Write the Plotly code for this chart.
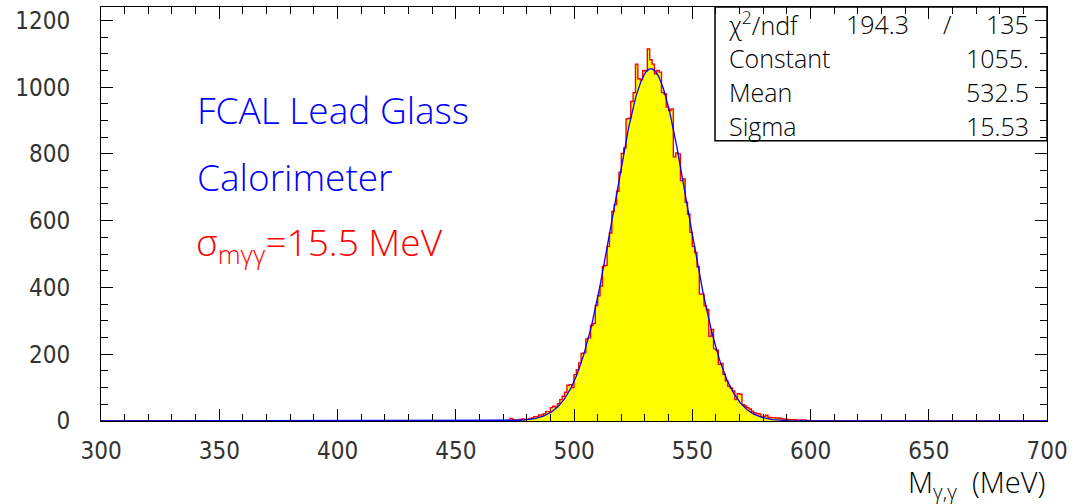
import numpy as np
import plotly.graph_objects as go

# ---------------- data ----------------
x_range = [300, 700]
y_range = [0, 1240]
bin_width = 1.0  # MeV
first_bin = 455  # lower edge of first listed bin (all others are empty)
counts = [
    0, 0, 0, 0, 0, 1, 0, 1, 0, 2,          # 455-464
    1, 1, 2, 1, 2, 1, 1, 2, 8, 4,          # 465-474
    2, 3, 5, 6, 4, 5, 7, 9, 13, 13,        # 475-484
    18, 18, 22, 28, 28, 40, 44, 42, 52, 64,  # 485-494
    74, 86, 107, 109, 100, 139, 154, 174, 202, 204,  # 495-504
    246, 249, 286, 292, 346, 375, 404, 463, 466, 523,  # 505-514
    563, 628, 648, 688, 745, 801, 818, 905, 907, 957,  # 515-524
    983, 1069, 1025, 1022, 1049, 1050, 1114, 1082, 1069, 1040,  # 525-534
    1050, 1045, 984, 980, 940, 930, 935, 791, 803, 800,  # 535-544
    720, 725, 655, 620, 565, 523, 505, 462, 380, 380,  # 545-554
    345, 334, 254, 274, 216, 212, 170, 172, 140, 120,  # 555-564
    104, 99, 90, 64, 82, 80, 49, 45, 40, 36,  # 565-574
    29, 24, 22, 21, 14, 14, 17, 11, 10, 10,  # 575-584
    9, 9, 8, 6, 5, 5, 4, 4, 4, 3,          # 585-594
    2, 3, 3, 2, 1, 1, 0, 0, 0, 0,          # 595-604
]
fit_constant = 1055.0
fit_mean = 532.5
fit_sigma = 15.53
chi2 = "194.3"
ndf = "135"
x_ticks = [300, 350, 400, 450, 500, 550, 600, 650, 700]
y_ticks = [0, 200, 400, 600, 800, 1000, 1200]

# ---------------- build step outline over the full range ----------------
n_bins = int((x_range[1] - x_range[0]) / bin_width)
edges = [x_range[0] + i * bin_width for i in range(n_bins + 1)]
full = [0.0] * n_bins
for i, c in enumerate(counts):
    full[int((first_bin - x_range[0]) / bin_width) + i] = c
step_x = edges
step_y = full + [full[-1]]

fit_x = np.linspace(x_range[0], x_range[1], 1601)
fit_y = fit_constant * np.exp(-0.5 * ((fit_x - fit_mean) / fit_sigma) ** 2)

# ---------------- figure ----------------
W, H = 1084, 504
L, R, T, B = 101, 1047, 7, 421.5


def px(xp):
    return (xp - L) / (R - L)


def py(yp):
    return (B - yp) / (B - T)


fig = go.Figure()
fig.add_trace(go.Scatter(
    x=step_x, y=step_y, mode="lines", line=dict(shape="hv", color="#ff0000", width=1.4),
    fill="tozeroy", fillcolor="#ffff00", hoverinfo="skip", showlegend=False))
fig.add_trace(go.Scatter(
    x=fit_x, y=fit_y, mode="lines", line=dict(color="#0000ff", width=1.3),
    hoverinfo="skip", showlegend=False))

tick_font = dict(family="Liberation Sans Narrow, DejaVu Sans Condensed, sans-serif", size=24,
                 color="#333", weight=300)
fig.update_xaxes(
    range=x_range, tickvals=x_ticks, ticktext=[str(v) for v in x_ticks],
    ticks="inside", ticklen=12, tickwidth=1, tickcolor="#000",
    minor=dict(dtick=10, ticks="inside", ticklen=7, tickwidth=1, tickcolor="#000"),
    showline=True, linecolor="#000", linewidth=1, mirror="ticks",
    showgrid=False, zeroline=False, tickfont=tick_font, ticklabelstandoff=8)
fig.update_yaxes(
    range=y_range, tickvals=y_ticks, ticktext=[str(v) for v in y_ticks],
    ticks="inside", ticklen=12, tickwidth=1, tickcolor="#000",
    minor=dict(dtick=50, ticks="inside", ticklen=7, tickwidth=1, tickcolor="#000"),
    showline=True, linecolor="#000", linewidth=1, mirror="ticks",
    showgrid=False, zeroline=False, tickfont=tick_font, ticklabelstandoff=25)

label_font = "Open Sans, Lato, sans-serif"
ann = []
# blue / red labels
ann.append(dict(x=px(195), y=py(110), text="FCAL Lead Glass", xanchor="left", yanchor="middle",
                font=dict(family=label_font, size=37, color="#0000ff", weight=300)))
ann.append(dict(x=px(195), y=py(177), text="Calorimeter", xanchor="left", yanchor="middle",
                font=dict(family=label_font, size=37, color="#0000ff", weight=300)))
ann.append(dict(x=px(194), y=py(244), text="σ<sub>mγγ</sub>=15.5 MeV", xanchor="left", yanchor="middle",
                font=dict(family=label_font, size=37, color="#ff0000", weight=300)))
# stat box text
box_font = dict(family=label_font, size=25, color="#000", weight=300)
rows = [("χ<sup>2</sup>/ndf", ndf), ("Constant", "1055."), ("Mean", "532.5"), ("Sigma", "15.53")]
row_y = [24, 58, 92, 126]
for (lab, val), ry in zip(rows, row_y):
    ann.append(dict(x=px(727), y=py(ry), text=lab, xanchor="left", yanchor="middle", font=box_font))
    ann.append(dict(x=px(1031), y=py(ry), text=val, xanchor="right", yanchor="middle", font=box_font))
ann.append(dict(x=px(911), y=py(24), text=chi2, xanchor="right", yanchor="middle", font=box_font))
ann.append(dict(x=px(947), y=py(24), text="/", xanchor="center", yanchor="middle", font=box_font))
# x-axis title
ann.append(dict(x=px(1047), y=py(484), text="M<sub>γ,γ</sub>  (MeV)", xanchor="right", yanchor="middle",
                font=dict(family=label_font, size=29, color="#000", weight=300)))
for a in ann:
    a.update(xref="paper", yref="paper", showarrow=False)

fig.update_layout(
    width=W, height=H, margin=dict(l=L, r=W - R, t=T, b=H - B, autoexpand=False),
    paper_bgcolor="white", plot_bgcolor="white", annotations=ann,
    shapes=[dict(type="rect", xref="paper", yref="paper", x0=px(715), x1=1.0, y0=py(141), y1=1.0,
                 line=dict(color="#000", width=1.5), layer="above")],
)

fig.write_html("out.html", config={"displayModeBar": False},
               post_script="document.body.style.margin='0px';")
